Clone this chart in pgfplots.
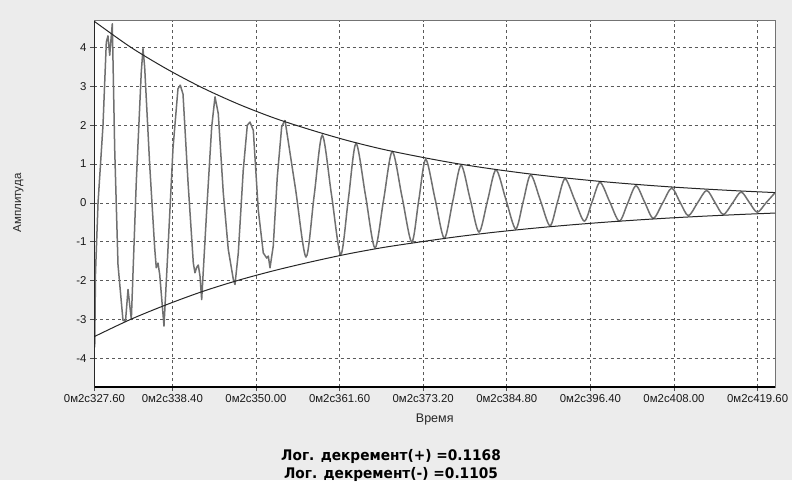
\documentclass[border=0pt]{standalone}
\usepackage{pgfplots}
\pgfplotsset{compat=1.18}
\usepackage{fontspec}
\setmainfont{Liberation Sans}
\newfontfamily\boldfont{DejaVu Sans}
\definecolor{bg}{RGB}{236,236,236}
\definecolor{sig}{RGB}{112,112,112}
\definecolor{gridc}{RGB}{90,90,90}

\begin{document}
\begin{tikzpicture}
% page background
\fill[bg] (-94.5bp,-93bp) rectangle (697.5bp,387bp);

\begin{axis}[
  scale only axis, width=680.5bp, height=366.3bp,
  at={(0,0)}, anchor=south west,
  xmin=327.6, xmax=422.01, ymin=-4.74, ymax=4.69,
  axis background/.style={fill=white},
  axis line style={draw=black!55, line width=0.8bp},
  xtick={327.6,338.4,350.0,361.6,373.2,384.8,396.4,408.0,419.6},
  xticklabels={0м2с327.60,0м2с338.40,0м2с350.00,0м2с361.60,0м2с373.20,0м2с384.80,0м2с396.40,0м2с408.00,0м2с419.60},
  ytick={-4,-3,-2,-1,0,1,2,3,4},
  yticklabels={-4,-3,-2,-1,0,1,2,3,4},
  minor x tick num=5,
  tick align=outside, tick pos=left,
  major tick length=4bp, minor tick length=3bp,
  tick style={black!70, line width=0.6bp},
  grid=major,
  major grid style={gridc, line width=0.7bp, dash pattern=on 3bp off 3bp},
  ticklabel style={font=\fontsize{11.4bp}{13bp}\selectfont, text=black!90},
  xticklabel style={yshift=-0.5bp},
  yticklabel style={xshift=-0.5bp},
  clip=true,
]
% measured signal
\addplot[sig, line width=1.5bp, line join=round] coordinates {
(327.63,-3.72) (327.74,-1.80) (328.09,0.00) (328.78,2.00) (329.24,4.14)
(329.47,4.30) (329.71,3.80) (329.93,4.30) (330.07,4.61) (330.40,1.40)
(330.86,-1.59) (331.55,-3.02) (331.90,-3.05) (332.25,-2.23) (332.71,-3.00)
(333.40,0.55) (334.09,3.37) (334.33,3.97) (334.56,3.50) (335.26,0.97)
(335.95,-1.16) (336.17,-1.67) (336.41,-1.55) (336.65,-1.85) (337.24,-3.17)
(337.80,-1.17) (338.49,1.40) (339.18,2.94) (339.50,3.03) (339.88,2.80)
(340.57,0.55) (341.31,-1.55) (341.54,-1.80) (341.78,-1.66) (342.00,-1.60)
(342.24,-1.89) (342.47,-2.49) (343.17,-0.18) (343.86,1.96) (344.32,2.73)
(344.77,2.30) (345.47,0.25) (346.16,-1.20) (346.86,-1.97) (347.09,-2.10)
(347.55,-1.29) (348.24,0.85) (348.80,2.00) (349.17,2.08) (349.63,1.87)
(350.32,-0.18) (351.02,-1.29) (351.49,-1.42) (351.71,-1.37) (351.95,-1.67)
(352.40,-1.11) (352.96,0.67) (353.57,1.96) (354.03,2.13)
};
\addplot[sig, line width=1.5bp, smooth, tension=0.5] coordinates {
(354.03,2.13) (355.48,0.37) (356.94,-1.39) (358.07,0.18) (359.20,1.74)
(360.48,0.21) (361.76,-1.33) (362.82,0.10) (363.88,1.53) (365.20,0.19)
(366.51,-1.16) (367.71,0.08) (368.91,1.32) (370.26,0.16) (371.61,-1.01)
(372.58,0.06) (373.55,1.12) (374.84,0.11) (376.13,-0.91) (377.29,0.03)
(378.45,0.97) (379.70,0.11) (380.94,-0.75) (382.12,0.05) (383.30,0.85)
(384.67,0.09) (386.03,-0.67) (387.07,0.03) (388.11,0.72) (389.45,0.07)
(390.79,-0.59) (391.83,0.02) (392.87,0.62) (394.21,0.08) (395.55,-0.47)
(396.64,0.03) (397.73,0.53) (399.07,0.03) (400.41,-0.47) (401.57,-0.01)
(402.72,0.44) (403.92,0.02) (405.12,-0.40) (406.40,-0.01) (407.67,0.38)
(408.83,0.02) (409.98,-0.33) (411.26,0.00) (412.53,0.32) (413.68,0.01)
(414.83,-0.30) (416.06,-0.02) (417.29,0.28) (418.42,0.02) (419.55,-0.24)
(420.80,0.01) (422.01,0.26)
};
% upper envelope
\addplot[black!85, line width=1bp, smooth] coordinates {
(327.6,4.67) (332.6,4.01) (337.6,3.45) (342.6,2.96) (347.6,2.54)
(352.6,2.18) (357.6,1.88) (362.6,1.61) (367.6,1.38) (372.6,1.19)
(377.6,1.02) (382.6,0.878) (387.6,0.754) (392.6,0.648) (397.6,0.556)
(402.6,0.478) (407.6,0.410) (412.6,0.353) (417.6,0.303) (422.01,0.265)
};
% lower envelope
\addplot[black!85, line width=1bp, smooth] coordinates {
(327.6,-3.44) (332.6,-3.00) (337.6,-2.62) (342.6,-2.28) (347.6,-1.99)
(352.6,-1.74) (357.6,-1.52) (362.6,-1.32) (367.6,-1.15) (372.6,-1.01)
(377.6,-0.879) (382.6,-0.766) (387.6,-0.669) (392.6,-0.584) (397.6,-0.509)
(402.6,-0.444) (407.6,-0.387) (412.6,-0.338) (417.6,-0.295) (422.01,-0.262)
};
% heavy left and bottom frame
\draw[black, line width=2bp] (rel axis cs:0,1) -- (rel axis cs:0,0) -- (rel axis cs:1,0);
\end{axis}

\node[anchor=base, font=\fontsize{12.5bp}{14bp}\selectfont, text=black!85] at (340.25bp,-35.3bp) {Время};
\node[rotate=90, font=\fontsize{11.5bp}{13bp}\selectfont, text=black!85] at (-76.2bp,184bp) {Амплитуда};
\node[anchor=base, font=\boldfont\bfseries\fontsize{14.6bp}{16bp}\selectfont] at (296.5bp,-73.7bp) {\scalebox{0.94}[1]{Лог. декремент(+) =0.1168}};
\node[anchor=base, font=\boldfont\bfseries\fontsize{14.6bp}{16bp}\selectfont] at (296.5bp,-91.3bp) {\scalebox{0.94}[1]{Лог. декремент(-) =0.1105}};
\end{tikzpicture}
\end{document}
